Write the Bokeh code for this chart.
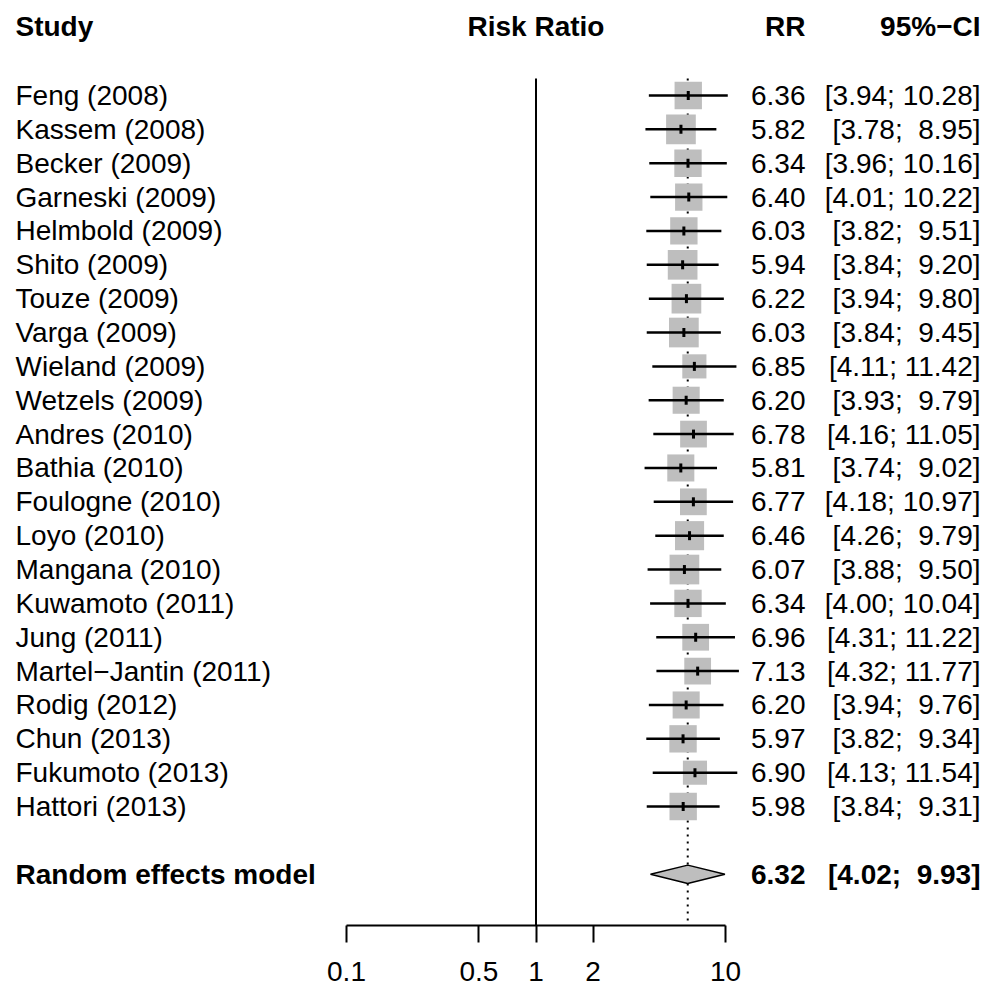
import numpy as np
from bokeh.plotting import figure
from bokeh.models import Range1d, LinearScale, FixedTicker, CustomJSTickFormatter
from bokeh.core.properties import value
from bokeh.embed import file_html
from bokeh.resources import INLINE

# ---------------- data ----------------
studies = ["Feng (2008)", "Kassem (2008)", "Becker (2009)", "Garneski (2009)",
           "Helmbold (2009)", "Shito (2009)", "Touze (2009)", "Varga (2009)",
           "Wieland (2009)", "Wetzels (2009)", "Andres (2010)", "Bathia (2010)",
           "Foulogne (2010)", "Loyo (2010)", "Mangana (2010)", "Kuwamoto (2011)",
           "Jung (2011)", "Martel\u2212Jantin (2011)", "Rodig (2012)", "Chun (2013)",
           "Fukumoto (2013)", "Hattori (2013)"]
rr = [6.36, 5.82, 6.34, 6.40, 6.03, 5.94, 6.22, 6.03, 6.85, 6.20, 6.78,
      5.81, 6.77, 6.46, 6.07, 6.34, 6.96, 7.13, 6.20, 5.97, 6.90, 5.98]
ci_lower = [3.94, 3.78, 3.96, 4.01, 3.82, 3.84, 3.94, 3.84, 4.11, 3.93, 4.16,
            3.74, 4.18, 4.26, 3.88, 4.00, 4.31, 4.32, 3.94, 3.82, 4.13, 3.84]
ci_upper = [10.28, 8.95, 10.16, 10.22, 9.51, 9.20, 9.80, 9.45, 11.42, 9.79, 11.05,
            9.02, 10.97, 9.79, 9.50, 10.04, 11.22, 11.77, 9.76, 9.34, 11.54, 9.31]
weights = [4.5, 5.3, 4.5, 4.5, 4.5, 5.3, 5.3, 5.3, 3.5, 4.4, 4.3,
           4.4, 4.3, 5.1, 5.3, 4.5, 4.3, 4.3, 4.4, 4.5, 3.5, 4.5]

summary_label = "Random effects model"
summary_rr = 6.32
summary_lower = 4.02
summary_upper = 9.93

axis_ticks = [0.1, 0.5, 1, 2, 10]
header_study = "Study"
header_effect = "Risk Ratio"
header_rr = "RR"
header_ci = "95%\u2212CI"

# ---------------- layout helpers ----------------
FONT = "Liberation Sans"
FS = "28px"
n = len(studies)
rows = list(range(1, n + 1))
summary_row = n + 2
header_row = -1.05

W, H = 985, 993
px_per_decade = 189.5
x_lo = 10 ** (-1 - 346 / px_per_decade)
x_hi = 10 ** (1 + (W - 725) / px_per_decade)

p = figure(width=W, height=H, x_axis_type="log",
           x_range=Range1d(x_lo, x_hi), y_range=Range1d(25.513, -1.8057),
           output_backend="svg", toolbar_location=None, y_axis_location=None,
           min_border_left=0, min_border_right=0, min_border_top=0,
           min_border_bottom=68)
p.outline_line_color = None
p.grid.visible = False
p.background_fill_color = "white"
p.border_fill_color = "white"
p.extra_x_ranges = {"px": Range1d(0, W)}
p.extra_x_scales = {"px": LinearScale()}

# axis
ax = p.xaxis[0]
ax.ticker = FixedTicker(ticks=axis_ticks)
ax.formatter = CustomJSTickFormatter(code="return String(tick);")
ax.bounds = (axis_ticks[0], axis_ticks[-1])
ax.axis_line_width = 2
ax.axis_line_color = "black"
ax.major_tick_line_width = 2
ax.major_tick_line_color = "black"
ax.major_tick_in = 0
ax.major_tick_out = 17
ax.minor_tick_line_color = None
ax.major_label_text_font = FONT
ax.major_label_text_font_size = FS
ax.major_label_text_color = "black"
ax.major_label_standoff = 19

# reference lines
p.segment(x0=[1], y0=[0.5], x1=[1], y1=[25.513], line_color="black", line_width=2)
p.segment(x0=[summary_rr], y0=[0.5], x1=[summary_rr], y1=[25.513],
          line_color="black", line_width=2, line_dash="2 5")

# squares
sizes = [12.9 * np.sqrt(w) for w in weights]
p.scatter(x=rr, y=rows, size=sizes, marker="square", fill_color="#BEBEBE",
          line_color=None)
# CIs
p.segment(x0=ci_lower, y0=rows, x1=ci_upper, y1=rows, line_color="black", line_width=2.5)
p.scatter(x=rr, y=rows, marker="dash", angle=np.pi / 2, size=9,
          line_color="black", line_width=3)

# diamond
dh = 0.27
p.patch(x=[summary_lower, summary_rr, summary_upper, summary_rr],
        y=[summary_row, summary_row - dh, summary_row, summary_row + dh],
        fill_color="#BEBEBE", line_color="black", line_width=1.5)

# texts
def txt(x, y, t, align, bold=False, rng="px"):
    kw = dict(x=x, y=y, text=t, text_align=align, text_baseline="middle",
              text_font=value(FONT), text_font_size=FS, text_color="black",
              text_font_style="bold" if bold else "normal")
    if rng:
        kw["x_range_name"] = rng
    p.text(**kw)

def fmt_ci(l, u):
    pad = "\u00a0" if u < 10 else ""
    return f"[{l:.2f}; {pad}{u:.2f}]"

txt([15] * n, rows, studies, "left")
txt([805] * n, rows, [f"{v:.2f}" for v in rr], "right")
txt([980] * n, rows, [fmt_ci(l, u) for l, u in zip(ci_lower, ci_upper)], "right")

txt([15], [summary_row], [summary_label], "left", bold=True)
txt([805], [summary_row], [f"{summary_rr:.2f}"], "right", bold=True)
txt([980], [summary_row], [fmt_ci(summary_lower, summary_upper)], "right", bold=True)

txt([15], [header_row], [header_study], "left", bold=True)
txt([1], [header_row], [header_effect], "center", bold=True, rng=None)
txt([805], [header_row], [header_rr], "right", bold=True)
txt([980], [header_row], [header_ci], "right", bold=True)

open("out.html", "w").write(file_html(p, INLINE))
